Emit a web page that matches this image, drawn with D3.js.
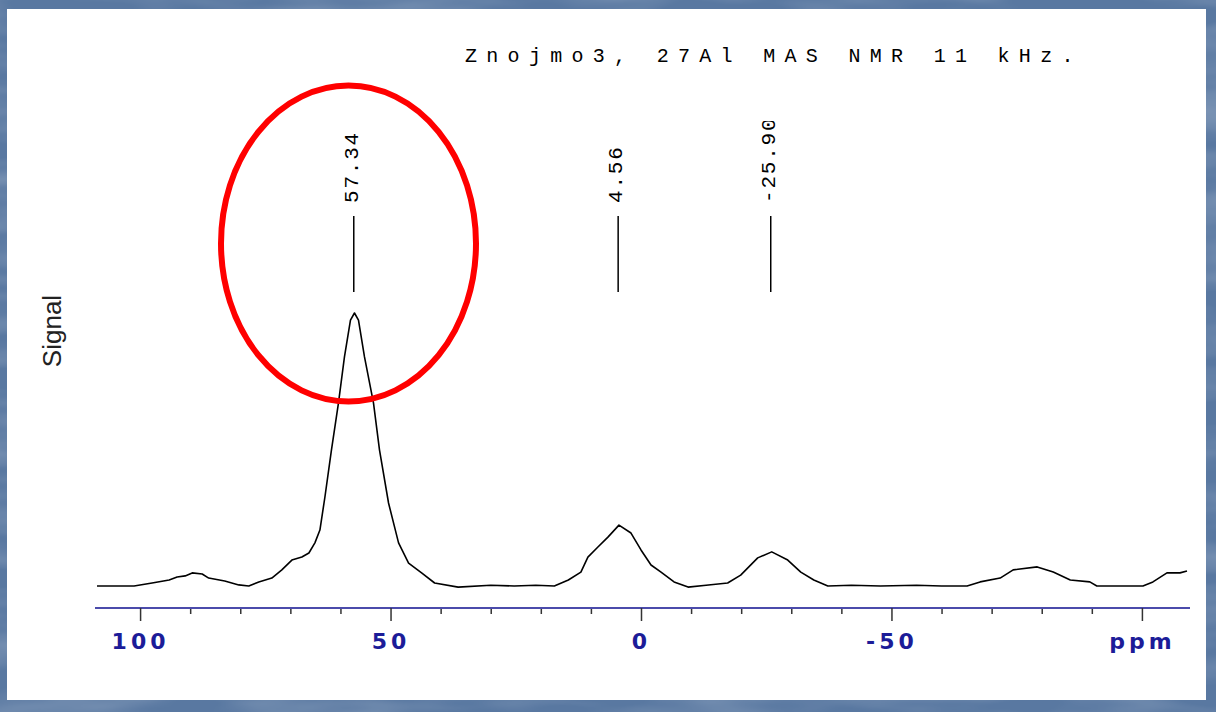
<!DOCTYPE html>
<head>
  <meta charset="utf-8">
  <script src="https://d3js.org/d3.v7.min.js"></script>
  <style>
    body { margin: 0; background: #5b7aa2; }
    svg { display: block; }
  </style>
</head>
<body>
  <svg width="1216" height="712"></svg>
  <script>
    // spectrum: chemical shift (ppm) and relative signal
    var shift = [108.6, 101.2, 97.6, 94.2, 92.6, 91.0, 89.6, 87.6, 86.3, 83.1, 80.3, 78.3,
      76.3, 73.7, 71.7, 69.7, 67.7, 66.3, 65.1, 64.1, 63.1, 61.8, 60.4, 59.2, 58.0, 57.2,
      56.4, 55.2, 53.4, 52.2, 50.4, 48.4, 46.4, 43.8, 41.2, 36.5, 30.0, 25.3, 21.0, 17.3,
      14.5, 12.0, 10.6, 8.6, 6.6, 4.4, 2.0, 0.0, -2.0, -4.0, -6.6, -9.4, -13.0, -17.3,
      -19.9, -23.3, -26.1, -29.3, -31.9, -34.5, -37.3, -42.0, -47.8, -55.0, -60.0, -65.1,
      -67.7, -71.7, -74.3, -79.1, -82.3, -85.7, -89.6, -91.0, -100.2, -102.2, -105.0,
      -107.6, -109.0];
    var signal = [0, 0, 1.1, 2.2, 3.3, 3.7, 4.8, 4.4, 2.9, 1.8, 0.4, 0,
      1.5, 2.9, 5.9, 9.5, 10.6, 12.1, 15.8, 20.5, 32.6, 49.8, 67.0, 83.9, 97.4, 100,
      97.4, 83.9, 67.0, 49.8, 30.4, 15.8, 8.4, 4.8, 1.1, -0.4, 0.3, 0, 0.3, 0,
      2.2, 5.1, 10.6, 14.3, 17.9, 22.3, 19.4, 13.2, 7.7, 5.1, 1.5, -0.4, 0.3, 1.1,
      4.0, 10.3, 12.5, 9.5, 5.1, 2.2, 0, 0.3, 0, 0.3, 0, 0,
      1.5, 2.9, 5.9, 7.0, 5.1, 2.2, 1.5, 0, 0, 1.5, 4.8,
      4.8, 5.5];

    var peakShift = [57.34, 4.56, -25.90];
    var peakLabel = ['57.34', '4.56', '-25.90'];

    var majorTicks = [100, 50, 0, -50, -100];
    var majorLabels = ['100', '50', '0', '-50', 'ppm'];
    var minorTicks = [90, 80, 70, 60, 40, 30, 20, 10, -10, -20, -30, -40, -60, -70, -80, -90];

    var title = 'Znojmo3, 27Al MAS NMR 11 kHz.';
    var yLabel = 'Signal';

    var svg = d3.select('svg');

    // textured blue slide background
    var defs = svg.append('defs');
    var f = defs.append('filter').attr('id', 'tex')
      .attr('x', 0).attr('y', 0).attr('width', '100%').attr('height', '100%');
    f.append('feTurbulence').attr('type', 'fractalNoise')
      .attr('baseFrequency', '0.006 0.03').attr('numOctaves', 3).attr('seed', 4);
    f.append('feColorMatrix').attr('type', 'matrix')
      .attr('values', '0 0 0 0 1  0 0 0 0 1  0 0 0 0 1  0 0 0 0.9 -0.35');
    // the top of the peak labels is cut off, as in the plot
    defs.append('clipPath').attr('id', 'labclip')
      .append('rect').attr('x', 0).attr('y', 121).attr('width', 1216).attr('height', 600);

    svg.append('rect').attr('width', 1216).attr('height', 712).attr('fill', '#5978a1');
    svg.append('rect').attr('width', 1216).attr('height', 712)
      .attr('filter', 'url(#tex)').attr('opacity', 0.5);

    // white panel
    svg.append('rect').attr('x', 7).attr('y', 9).attr('width', 1199).attr('height', 691)
      .attr('fill', '#fff');

    // scales (ppm axis runs right to left)
    var x = d3.scaleLinear().domain([109, -109.6]).range([95, 1190]);
    var y = d3.scaleLinear().domain([0, 100]).range([586, 313]);

    // spectrum
    var data = shift.map((s, i) => ({ s: s, v: signal[i] }));
    var line = d3.line().x(d => x(d.s)).y(d => y(d.v));
    svg.append('path')
      .attr('d', line(data))
      .attr('fill', 'none')
      .attr('stroke', '#000')
      .attr('stroke-width', 1.6)
      .attr('stroke-linejoin', 'round');

    // axis
    var axisY = 608;
    var minorAxis = d3.axisBottom(x).tickValues(minorTicks).tickSize(6).tickFormat('');
    var majorAxis = d3.axisBottom(x).tickValues(majorTicks).tickSize(13)
      .tickFormat((d, i) => majorLabels[i]);

    svg.append('g').attr('transform', 'translate(0,' + axisY + ')').call(minorAxis)
      .call(g => g.select('.domain').remove())
      .selectAll('line').attr('stroke', '#333').attr('stroke-width', 1.5);

    var gx = svg.append('g').attr('transform', 'translate(0,' + axisY + ')').call(majorAxis);
    gx.select('.domain').attr('d', 'M95,0H1190').attr('stroke', '#4b4bab').attr('stroke-width', 2);
    gx.selectAll('.tick line').attr('stroke', '#333').attr('stroke-width', 1.5);
    gx.selectAll('.tick text')
      .attr('y', 41).attr('dy', 0)
      .attr('fill', '#1c1c98')
      .style('font-family', '"DejaVu Sans", sans-serif')
      .style('font-weight', 'bold')
      .style('font-size', '22px')
      .style('letter-spacing', '4px');

    // peak markers
    var pk = svg.append('g').attr('clip-path', 'url(#labclip)');
    pk.selectAll('line.mk').data(peakShift).join('line').attr('class', 'mk')
      .attr('x1', d => x(d)).attr('x2', d => x(d))
      .attr('y1', 216).attr('y2', 292)
      .attr('stroke', '#000').attr('stroke-width', 1.5);
    pk.selectAll('text').data(peakShift).join('text')
      .attr('transform', d => 'translate(' + (x(d) + 4) + ',203) rotate(-90)')
      .attr('text-anchor', 'start')
      .style('font-family', '"Liberation Mono", monospace')
      .style('font-size', '21px')
      .style('letter-spacing', '1.8px')
      .attr('fill', '#000')
      .text((d, i) => peakLabel[i]);

    // title
    svg.append('text')
      .attr('x', 465).attr('y', 62)
      .style('font-family', '"Liberation Mono", monospace')
      .style('font-size', '20px')
      .style('letter-spacing', '9.3px')
      .attr('fill', '#000')
      .text(title);

    // y label
    svg.append('text')
      .attr('transform', 'translate(61,331) rotate(-90)')
      .attr('text-anchor', 'middle')
      .style('font-family', '"Liberation Sans", Arial, sans-serif')
      .style('font-size', '26px')
      .attr('fill', '#222')
      .text(yLabel);

    // red highlight ellipse round the main peak
    svg.append('ellipse')
      .attr('cx', 348.5).attr('cy', 243.5).attr('rx', 127.5).attr('ry', 158)
      .attr('fill', 'none').attr('stroke', '#ff0000').attr('stroke-width', 6);
  </script>
</body>
